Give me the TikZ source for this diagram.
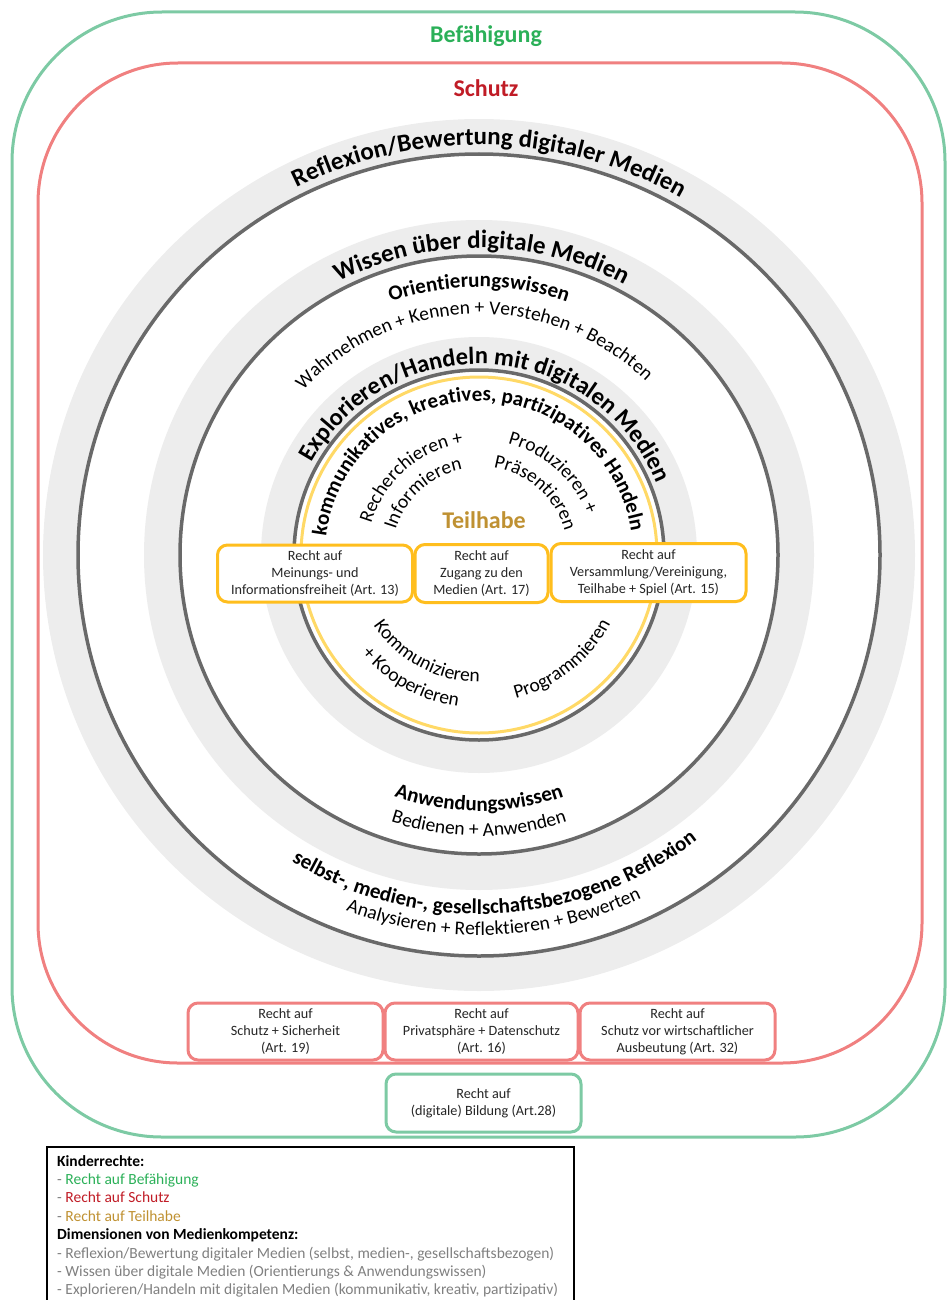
\documentclass[tikz,border=0pt]{standalone}
\usepackage{fontspec}
\setmainfont{Carlito}
\usetikzlibrary{calc,decorations.text}
\definecolor{gruen}{RGB}{125,202,164}
\definecolor{gruentext}{RGB}{43,176,88}
\definecolor{rot}{RGB}{240,128,128}
\definecolor{rottext}{RGB}{192,28,38}
\definecolor{gelb}{RGB}{255,190,30}
\definecolor{gelbring}{RGB}{255,217,102}
\definecolor{gold}{RGB}{191,145,50}
\definecolor{ring}{RGB}{237,237,237}
\definecolor{dunkel}{RGB}{105,105,105}
\definecolor{legendgrau}{RGB}{128,128,128}
\newcommand\fettA{\bfseries\fontsize{25}{30}\selectfont}
\newcommand\fettB{\bfseries\fontsize{21}{25}\selectfont}
\newcommand\fettC{\bfseries\fontsize{24.5}{29}\selectfont}
\newcommand\normalB{\fontsize{19.5}{24}\selectfont}
\def\bogentext[#1](#2:#3:#4)#5{\path[decorate,decoration={text along path,text align=center,text={#5},#1}] ($(C)+({#2+(#3)}:#4)$) arc[start angle={#2+(#3)},end angle={#2-(#3)},radius=#4];}
\tikzset{
  kreis/.style={draw=dunkel, line width=3.5pt},
  rahmen/.style={line width=3pt},
  rechtbox/.style={draw, fill=white, rounded corners=10pt, line width=3pt, align=center, inner sep=0pt, text=black!85, font=\fontsize{14.2}{17}\selectfont},
  titel/.style={font=\bfseries\fontsize{24}{28}\selectfont},
}
\begin{document}
\begin{tikzpicture}[x=1pt,y=1pt]
		%%%%% START %%%%%
		\useasboundingbox (0,0) rectangle (947,-1300);
		\coordinate (C) at (479,-555);
		
		\draw[rahmen, draw=gruen, rounded corners=150pt] (12,-12) rectangle (945,-1137);
		\draw[rahmen, draw=rot, rounded corners=140pt] (38,-63) rectangle (922,-1063);
		\node[titel, text=gruentext] (befaehigung) at (486,-36) {Befähigung};
		\node[titel, text=rottext] (schutz) at (486,-88) {Schutz};
		
		\fill[ring] (C) circle[radius=436pt];
		\fill[white] (C) circle[radius=401pt];
		\draw[kreis] (C) circle[radius=401pt];
		\fill[ring] (C) circle[radius=335pt];
		\fill[white] (C) circle[radius=299pt];
		\draw[kreis] (C) circle[radius=299pt];
		\fill[ring] (C) circle[radius=218pt];
		\fill[white] (C) circle[radius=185pt];
		\draw[kreis] (C) circle[radius=185pt];
		\draw[line width=3pt, gelbring] (C) circle[radius=178pt];
		
		\bogentext[](88.5:80:410pt){|\fettA|Reflexion/Bewertung digitaler Medien}
		\bogentext[](89.5:80:307pt){|\fettA|Wissen über digitale Medien}
		\bogentext[](90:60:268pt){|\fettB|Orientierungswissen}
		\bogentext[](91.5:80:241pt){|\normalB|Wahrnehmen + Kennen + Verstehen + Beachten}
		\bogentext[](86.5:85:191pt){|\fettC|Explorieren/Handeln mit digitalen Medien}
		\bogentext[](91:88:154pt){|\fettB|kommunikatives, kreatives, partizipatives Handeln}
		
		\bogentext[](131:60:112pt){|\normalB|Recherchieren +}
		\bogentext[](132:60:87pt){|\normalB|Informieren}
		\bogentext[](48:60:115pt){|\normalB|Produzieren +}
		\bogentext[](48:60:89pt){|\normalB|Präsentieren}
		\bogentext[](242:-60:127pt){|\normalB|Kommunizieren}
		\bogentext[](241:-60:153pt){|\normalB|+ Kooperieren}
		\bogentext[](308.5:-60:148pt){|\normalB|Programmieren}
		
		\bogentext[](270:-60:256pt){|\fettB|Anwendungswissen}
		\bogentext[](270:-60:281pt){|\normalB|Bedienen + Anwenden}
		\bogentext[](273:-60:359pt){|\fettB|selbst-, medien-, gesellschaftsbezogene Reflexion}
		\bogentext[](272.4:-60:380pt){|\normalB|Analysieren + Reflektieren + Bewerten}
		
		\node[titel, text=gold] (teilhabe) at (484,-520) {Teilhabe};
		\node[rechtbox, draw=gelb, minimum width=195pt, minimum height=57pt] (meinung) at (315,-573.5) {Recht auf\\Meinungs- und\\Informationsfreiheit (Art. 13)};
		\node[rechtbox, draw=gelb, minimum width=133pt, minimum height=58pt] (zugang) at (481.5,-573.5) {Recht auf\\Zugang zu den\\Medien (Art. 17)};
		\node[rechtbox, draw=gelb, minimum width=195pt, minimum height=58pt] (versammlung) at (648.5,-572.5) {Recht auf\\Versammlung/Vereinigung,\\Teilhabe + Spiel (Art. 15)};
		
		\node[rechtbox, draw=rot, minimum width=195pt, minimum height=57pt] (sicherheit) at (285.5,-1031.5) {Recht auf\\Schutz + Sicherheit\\(Art. 19)};
		\node[rechtbox, draw=rot, minimum width=193pt, minimum height=57pt] (privat) at (481.5,-1031.5) {Recht auf\\Privatsphäre + Datenschutz\\(Art. 16)};
		\node[rechtbox, draw=rot, minimum width=195pt, minimum height=57pt] (ausbeutung) at (677.5,-1031.5) {Recht auf\\Schutz vor wirtschaftlicher\\Ausbeutung (Art. 32)};
		\node[rechtbox, draw=gruen, minimum width=195pt, minimum height=58pt] (bildung) at (483.5,-1103) {Recht auf\\(digitale) Bildung (Art.28)};
		
		\draw[line width=1.2pt] (47,-1310) |- (574,-1147) -- (574,-1310);
		\node[anchor=north west, align=left, inner sep=0pt, font=\fontsize{15.5}{18.4}\selectfont] (legende) at (57,-1155) {\textbf{Kinderrechte:}\\
			\textcolor{legendgrau}{-} \textcolor{gruentext}{Recht auf Befähigung}\\
			\textcolor{legendgrau}{-} \textcolor{rottext}{Recht auf Schutz}\\
			\textcolor{legendgrau}{-} \textcolor{gold}{Recht auf Teilhabe}\\
			\textbf{Dimensionen von Medienkompetenz:}\\
			\textcolor{legendgrau}{- Reflexion/Bewertung digitaler Medien (selbst, medien-, gesellschaftsbezogen)}\\
			\textcolor{legendgrau}{- Wissen über digitale Medien (Orientierungs \& Anwendungswissen)}\\
			\textcolor{legendgrau}{- Explorieren/Handeln mit digitalen Medien (kommunikativ, kreativ, partizipativ)}};
		%%%%% END %%%%%
\end{tikzpicture}
\end{document}
